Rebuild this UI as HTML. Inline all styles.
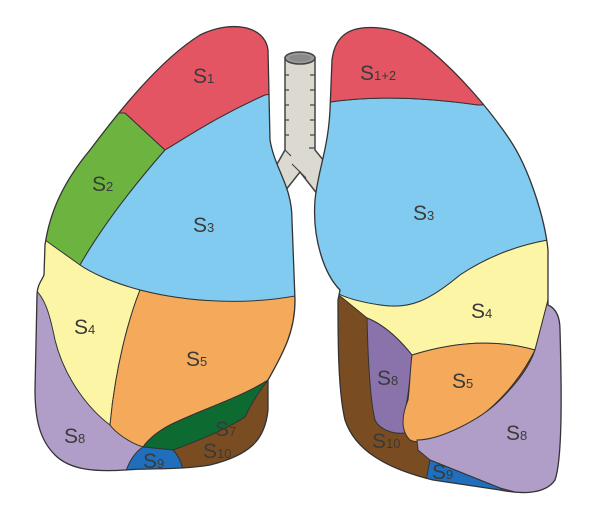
<!DOCTYPE html>
<html><head><meta charset="utf-8"><style>
html,body{margin:0;padding:0;background:#fff;}
svg{display:block}
text{font-family:"Liberation Sans",sans-serif;fill:#3a3a3a}
.s{font-size:21px}
.n{font-size:13px}
</style></head><body>
<svg width="600" height="514" viewBox="0 0 600 514" xmlns="http://www.w3.org/2000/svg">
<defs>
<clipPath id="rl"><path id="rlp" d="M200,35 C230,20 265,25 268,50 L270,140 C275,170 292,185 292,220 L295,300 C295,330 285,350 268,380 L268,410 C265,440 250,455 210,465 C180,470 150,468 125,470 C95,472 70,470 55,455 C40,440 35,420 35,390 L37,295 C37,285 42,280 44,275 L45,245 C50,210 65,180 90,150 C120,110 160,60 200,35 Z"/></clipPath>
<clipPath id="ll"><path id="llp" d="M380,28 C350,25 335,35 332,60 L330,110 C328,150 318,170 315,200 C312,240 325,275 340,290 L338,300 C338,340 338,390 345,420 C355,450 385,468 433,480 L500,490 C520,494 545,495 555,480 C562,460 562,400 560,330 C560,315 555,308 548,305 L548,250 C545,220 530,170 510,140 C490,110 460,75 430,50 C415,38 400,30 380,28 Z"/></clipPath>
</defs>
<!-- trachea -->
<path d="M285,58 L285,150 L268,180 L274,205 L300,172 L322,200 L333,172 L315,150 L315,58 Z" fill="#dcdad0" stroke="#444" stroke-width="1.5"/>
<g stroke="#444" stroke-width="1.2" fill="none">
<path d="M285,75 h4 M285,90 h4 M285,105 h4 M285,120 h4 M285,135 h4 M315,75 h-5 M315,90 h-5 M315,105 h-5 M315,120 h-5 M315,135 h-5 M315,148 h-6 M285,150 l6,6 M300,172 l-8,-8 M300,172 l6,6"/>
</g>
<ellipse cx="300" cy="58" rx="15" ry="6" fill="#9a9a9a" stroke="#444" stroke-width="1.5"/>
<ellipse cx="300" cy="58" rx="11" ry="3.5" fill="#8a8a8a"/>
<!-- right lung (image left) -->
<g clip-path="url(#rl)" stroke="#333" stroke-width="1">
<rect x="0" y="0" width="300" height="514" fill="#b09ec9"/>
<path d="M0,100 L125,113 L165,150 C130,190 100,230 80,265 L45,245 L0,250 Z" fill="#6db33f"/>
<path d="M0,0 H300 V95 L265,95 C220,115 190,135 165,150 L125,113 L0,113 Z" fill="#e35563"/>
<path d="M165,150 C190,135 220,115 265,95 L300,90 V300 L290,297 C250,305 190,303 140,290 C110,282 90,272 80,265 C100,230 130,190 165,150 Z" fill="#80cbef"/>
<path d="M45,240 L80,265 C90,272 110,282 140,290 C128,320 115,370 110,425 C90,410 65,380 55,340 C50,315 45,295 30,285 L30,240 Z" fill="#fdf5a6"/>
<path d="M140,290 C190,303 250,305 300,295 V340 C290,360 280,372 268,380 C240,398 200,410 170,425 C155,433 148,440 143,447 C128,442 115,432 110,425 C115,370 128,320 140,290 Z" fill="#f4aa5a"/>
<path d="M173,450 C195,442 225,430 245,417 C250,405 258,392 265,383 L300,370 V514 H178 Z" fill="#7a4c22"/>
<path d="M143,447 C148,440 155,433 170,425 C200,410 240,398 268,380 C260,390 252,402 245,417 C225,430 195,442 173,450 Z" fill="#0d6b31"/>
<path d="M143,447 L173,450 C178,455 182,462 184,475 L125,475 C128,462 135,452 143,447 Z" fill="#1f6fbd"/>
</g>
<use href="#rlp" fill="none" stroke="#333" stroke-width="1.3"/>
<!-- left lung (image right) -->
<g clip-path="url(#ll)" stroke="#333" stroke-width="1">
<rect x="300" y="0" width="300" height="514" fill="#7a4c22"/>
<path d="M300,102 L330,102 C380,95 430,98 478,105 L600,100 V240 L548,240 C520,245 490,255 460,275 C430,300 410,310 380,305 C360,302 345,298 335,292 L300,300 Z" fill="#80cbef"/>
<path d="M300,0 H600 V100 L478,105 C430,98 380,95 330,102 L300,102 Z" fill="#e35563"/>
<path d="M335,292 C345,298 360,302 380,305 C410,310 430,300 460,275 C490,255 520,245 548,240 L600,240 V300 L548,300 L535,350 C500,340 460,340 412,355 C400,340 385,325 367,318 L345,300 Z" fill="#fdf5a6"/>
<path d="M367,318 C385,325 400,340 412,355 C410,380 408,400 405,410 C405,420 408,428 410,432 C395,436 380,430 375,420 C370,400 368,360 367,318 Z" fill="#8a72ab"/>
<path d="M412,355 C460,340 500,340 535,350 C520,380 495,410 460,430 C440,440 420,445 410,440 C400,430 402,415 408,400 C410,385 410,370 412,355 Z" fill="#f4aa5a"/>
<path d="M548,300 L600,300 V514 L500,488 L430,460 L418,450 L417,440 C440,440 480,420 500,400 C520,380 530,365 535,350 Z" fill="#b09ec9"/>
<path d="M430,460 L500,488 L520,514 L420,514 L428,470 Z" fill="#1f6fbd"/>
</g>
<use href="#llp" fill="none" stroke="#333" stroke-width="1.3"/>
<!-- labels -->
<text x="193" y="83"><tspan class="s">S</tspan><tspan class="n">1</tspan></text>
<text x="92" y="191"><tspan class="s">S</tspan><tspan class="n">2</tspan></text>
<text x="193" y="232"><tspan class="s">S</tspan><tspan class="n">3</tspan></text>
<text x="74" y="334"><tspan class="s">S</tspan><tspan class="n">4</tspan></text>
<text x="186" y="366"><tspan class="s">S</tspan><tspan class="n">5</tspan></text>
<text x="64" y="443"><tspan class="s">S</tspan><tspan class="n">8</tspan></text>
<text x="215" y="436"><tspan class="s">S</tspan><tspan class="n">7</tspan></text>
<text x="203" y="458"><tspan class="s">S</tspan><tspan class="n">10</tspan></text>
<text x="143" y="468"><tspan class="s">S</tspan><tspan class="n">9</tspan></text>
<text x="360" y="80"><tspan class="s">S</tspan><tspan class="n">1+2</tspan></text>
<text x="413" y="220"><tspan class="s">S</tspan><tspan class="n">3</tspan></text>
<text x="471" y="318"><tspan class="s">S</tspan><tspan class="n">4</tspan></text>
<text x="377" y="385"><tspan class="s">S</tspan><tspan class="n">8</tspan></text>
<text x="452" y="388"><tspan class="s">S</tspan><tspan class="n">5</tspan></text>
<text x="506" y="440"><tspan class="s">S</tspan><tspan class="n">8</tspan></text>
<text x="372" y="448"><tspan class="s">S</tspan><tspan class="n">10</tspan></text>
<text x="432" y="479"><tspan class="s">S</tspan><tspan class="n">9</tspan></text>
</svg>
</body></html>
